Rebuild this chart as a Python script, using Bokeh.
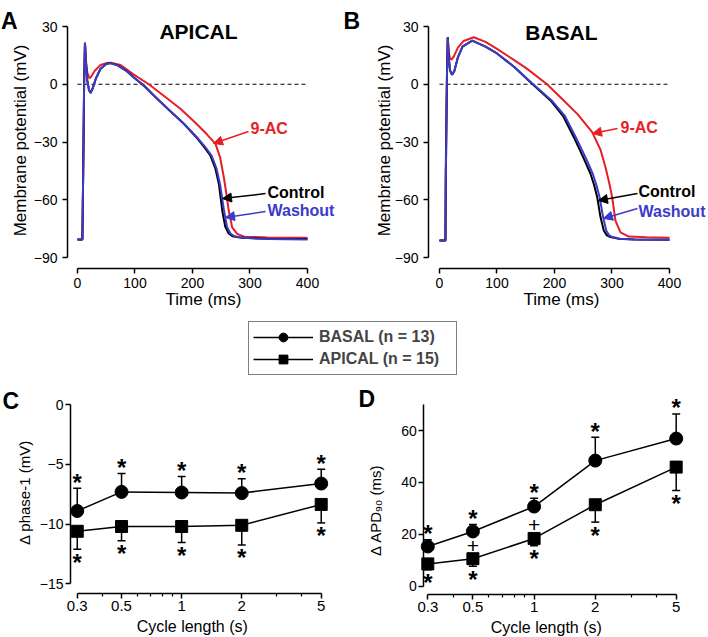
import math
from bokeh.plotting import figure
from bokeh.models import (Range1d, FixedTicker, Label, Arrow, NormalHead, Whisker, TeeHead,
                          ColumnDataSource, Legend, LegendItem)
from bokeh.layouts import row, column
from bokeh.embed import file_html
from bokeh.resources import INLINE
from bokeh.core.properties import value

FONT = "Liberation Sans"
RED = "#e61e25"
BLUE = "#3b3bc8"
BLACK = "#000000"

# ---------------- Panel A (APICAL) action potentials: time (ms), voltage (mV) ----------------
a_ctrl_t = [0, 8.5, 9.5, 10.5, 11.5, 13, 14.5, 17, 20, 22.5, 26, 32, 40, 50, 57, 70, 85, 98, 117,
            135, 156, 185, 205, 220, 231, 240, 246, 249, 252, 257, 263, 270, 285, 330, 400]
a_ctrl_v = [-80.6, -80.6, -56, -30, 0, 21.5, 12, 2, -3, -4.5, -2.5, 3, 8, 10.5, 11, 9.8, 7, 3.5, -1,
            -6.5, -12.5, -20.5, -27, -32.5, -37, -44, -52, -59, -66, -74, -77.5, -79, -79.8, -80.2, -80.4]
a_wash_t = [0, 8.5, 9.5, 10.5, 11.5, 13, 14.5, 17, 20, 22.5, 26, 32, 40, 50, 57, 70, 85, 98, 116,
            135, 156, 185, 206, 222, 233, 242, 248, 251.5, 255, 260, 266, 273, 288, 330, 400]
a_wash_v = [-80.6, -80.6, -56, -30, 0, 21.5, 12, 2, -3, -4.5, -2.5, 3, 8, 10.5, 11, 9.8, 7, 3.5, -1,
            -6.5, -12.5, -20.5, -27, -32.5, -37, -44, -52, -59, -66, -74, -77.5, -79, -79.8, -80.4, -80.6]
a_9ac_t = [0, 8.5, 9.5, 10.5, 11.5, 13, 14.5, 17, 21, 25, 30, 40, 50, 58, 75, 98, 124, 150, 180,
           205, 225, 240, 248, 254.5, 259, 263, 269, 277.7, 290, 330, 400]
a_9ac_v = [-80.6, -80.6, -56, -30, 0, 21.5, 13, 6, 3.1, 4.5, 7, 10, 11, 11.2, 10, 5, 0, -6, -13,
           -20, -26, -31, -38, -48.3, -57, -65.6, -74.3, -77.7, -79.2, -79.6, -79.8]

# ---------------- Panel B (BASAL) action potentials ----------------
b_ctrl_t = [0, 10.4, 11, 12, 13, 14.4, 16, 18.5, 22, 26, 32, 40, 57, 80, 100, 130, 160, 193, 215,
            233.6, 250, 262.6, 269, 274.3, 280, 285.7, 291, 297.4, 310, 340, 400]
b_ctrl_v = [-81.2, -81.2, -50, -20, 5, 24.4, 14, 7, 4.9, 7, 14, 19.5, 22.7, 19.5, 16, 9, 0.5, -8.4, -16.5,
            -27.5, -38, -46.5, -52.5, -58.7, -69, -76, -78.5, -79.4, -80.2, -80.6, -80.8]
b_wash_t = [0, 10.4, 11, 12, 13, 14.4, 16, 18.5, 22, 26, 32, 40, 57, 80, 100, 130, 161, 195, 218,
            237, 254, 266.5, 273, 278.5, 284.5, 290, 295, 301, 314, 340, 400]
b_wash_v = [-81.2, -81.2, -50, -20, 5, 24.4, 14, 7, 4.9, 7, 14, 19.5, 22.7, 19.5, 16, 9, 0.5, -8.4, -16.5,
            -27.5, -38, -46.5, -52.5, -58.7, -69, -76, -78.5, -79.4, -80.2, -80.6, -80.8]
b_9ac_t = [0, 10.2, 10.8, 12, 13, 14.4, 16, 18, 20.9, 25, 32, 42, 59.7, 80, 100, 130, 152.5, 187,
           216, 240, 265.5, 280, 288.7, 295, 300.3, 306, 314.8, 329, 360, 400]
b_9ac_v = [-81.2, -81.2, -44, -20, 5, 24.4, 17, 13.5, 12.7, 14.5, 19, 22.5, 24.4, 22, 18.4, 12.5, 8, 0,
           -8.4, -15.5, -24.9, -34, -43.1, -51, -58.7, -70.8, -76.9, -79.1, -79.5, -79.8]

# ---------------- Panels C / D: cycle length dependence ----------------
cycle_length = [0.3, 0.5, 1, 2, 5]
c_basal_mean = [-8.9, -7.3, -7.35, -7.4, -6.6]
c_basal_sem = [1.9, 1.55, 1.35, 1.2, 1.2]
c_apical_mean = [-10.6, -10.2, -10.2, -10.1, -8.35]
c_apical_sem = [1.5, 1.2, 1.35, 1.65, 1.55]
d_basal_mean = [15.3, 21.1, 30.7, 48.4, 56.9]
d_basal_sem = [2.6, 2.7, 3.2, 9.0, 9.5]
d_apical_mean = [8.6, 10.6, 18.4, 31.4, 45.9]
d_apical_sem = [2.3, 2.9, 2.8, 6.7, 9.0]
d_plus_x = [0.5, 1]   # basal vs apical significance marks

# ---------------- ticks ----------------
ap_time_ticks = [0, 100, 200, 300, 400]
ap_mv_ticks = [-90, -60, -30, 0, 30]
cl_ticks = [0.3, 0.5, 1, 2, 5]
cl_minor_ticks = [0.4, 0.6, 0.7, 0.8, 0.9, 3, 4]
cl_labels = {0.3: "0.3", 0.5: "0.5", 1: "1", 2: "2", 5: "5"}
c_ticks = [-15, -10, -5, 0]
d_ticks = [0, 20, 40, 60]
zero_line_t = [0, 400]
zero_line_v = [0, 0]


def style(p, tick_px):
    p.grid.visible = False
    p.outline_line_color = None
    for ax in p.axis:
        ax.axis_line_color = "black"
        ax.axis_line_width = 1.5
        ax.major_tick_line_color = "black"
        ax.major_tick_line_width = 1.5
        ax.major_tick_in = 0
        ax.major_tick_out = 5
        ax.minor_tick_line_color = "black"
        ax.minor_tick_line_width = 1.2
        ax.minor_tick_in = 0
        ax.minor_tick_out = 3
        ax.major_label_text_font = FONT
        ax.major_label_text_font_size = tick_px
        ax.major_label_text_color = "black"


def text_label(p, x, y, text, size, bold=False, align="center", baseline="middle", color="black", angle=0.0):
    p.add_layout(Label(x=x, y=y, text=text, text_font=FONT, text_font_size=size,
                       text_font_style="bold" if bold else "normal", text_align=align,
                       text_baseline=baseline, text_color=color, angle=angle))


def ap_panel(width, x0, x1, y_axis_at, curves, title, title_xy, letter, letter_xy, ylab_x, xlab_x, notes):
    p = figure(width=width, height=314, x_range=Range1d(x0, x1), y_range=Range1d(-119.61, 43.51),
               min_border=0, toolbar_location=None, output_backend="svg")
    style(p, "14px")
    p.xaxis.fixed_location = -95.71
    p.yaxis.fixed_location = y_axis_at
    p.xaxis.bounds = (0, 400)
    p.yaxis.bounds = (-90, 30)
    p.xaxis.ticker = FixedTicker(ticks=ap_time_ticks)
    p.yaxis.ticker = FixedTicker(ticks=ap_mv_ticks)
    p.xaxis.major_label_standoff = 5
    p.yaxis.major_label_standoff = 5
    p.line(zero_line_t, zero_line_v, line_color="black", line_width=1, line_dash="4 3")
    for t, v, c in curves:
        p.line(t, v, line_color=c, line_width=2)
    text_label(p, title_xy[0], title_xy[1], title, "21px", bold=True)
    text_label(p, letter_xy[0], letter_xy[1], letter, "23px", bold=True, align="left", baseline="alphabetic")
    text_label(p, ylab_x, -29.2, "Membrane potential (mV)", "17px", angle=math.pi / 2)
    text_label(p, xlab_x, -107.1, "Time (ms)", "17px", baseline="top")
    for text, col, tx, ty, xs, ys, xe, ye in notes:
        p.add_layout(Arrow(end=NormalHead(size=9, fill_color=col, line_color=col, line_width=1),
                           x_start=xs, y_start=ys, x_end=xe, y_end=ye, line_color=col, line_width=1.5))
        text_label(p, tx, ty, text, "16px", bold=True, align="left", color=col)
    return p


pA = ap_panel(340, -133.9, 457.4, -17.39,
              [(a_9ac_t, a_9ac_v, RED), (a_ctrl_t, a_ctrl_v, BLACK), (a_wash_t, a_wash_v, BLUE)],
              "APICAL", (210.4, 27.4), "A", (-133.0, 33.1), -98.3, 219.1,
              [("9-AC", RED, 300.9, -23.0, 297.4, -24.5, 236.5, -30.8),
               ("Control", BLACK, 330.4, -56.2, 327.0, -56.8, 252.2, -59.4),
               ("Washout", BLUE, 330.4, -65.6, 327.0, -66.1, 257.4, -69.2)])
pB = ap_panel(368, -172.17, 467.83, -19.13,
              [(b_9ac_t, b_9ac_v, RED), (b_ctrl_t, b_ctrl_v, BLACK), (b_wash_t, b_wash_v, BLUE)],
              "BASAL", (212, 27.0), "B", (-167, 33.1), -96.5, 212.2,
              [("9-AC", RED, 314.8, -22.5, 309.6, -23.0, 266.1, -25.6),
               ("Control", BLACK, 346.1, -55.7, 344.3, -56.8, 276.5, -60.4),
               ("Washout", BLUE, 346.1, -66.1, 344.3, -64.5, 285.2, -69.7)])

# ---------------- legend strip ----------------
pl = figure(width=708, height=62, x_range=Range1d(0, 1), y_range=Range1d(0, 1),
            x_axis_location=None, y_axis_location=None, min_border=0,
            toolbar_location=None, output_backend="svg")
pl.grid.visible = False
pl.outline_line_color = None
# legend-only samples, kept outside the visible range of this strip
r_bl = pl.line(x=[-2, -1], y=[-2, -2], line_color="black", line_width=1.5)
r_bm = pl.scatter(x=[-2], y=[-2], marker="circle", size=9, fill_color="black", line_color="black")
r_al = pl.line(x=[-2, -1], y=[-2, -2], line_color="black", line_width=1.5)
r_am = pl.scatter(x=[-2], y=[-2], marker="square", size=9, fill_color="black", line_color="black")
leg = Legend(items=[LegendItem(label="BASAL (n = 13)", renderers=[r_bl, r_bm]),
                    LegendItem(label="APICAL (n = 15)", renderers=[r_al, r_am])],
             location=(248, 1), orientation="vertical", padding=4, spacing=0, margin=0,
             glyph_width=60, glyph_height=22, label_standoff=6, label_width=133, label_height=22,
             label_text_font=FONT, label_text_font_size="16px", label_text_font_style="bold",
             border_line_color="black", border_line_width=1.5, background_fill_alpha=1.0)
pl.add_layout(leg)


def cl_panel(width, x0, x1, y0, y1, yaxis_at, xaxis_at, yticks, ybounds, bm, bs, am, asem,
             letter_xy, xlabel_xy, ylabel, plus_x=None):
    p = figure(width=width, height=260, x_axis_type="log", x_range=Range1d(x0, x1), y_range=Range1d(y0, y1),
               min_border=0, toolbar_location=None, output_backend="svg")
    style(p, "14px")
    p.xaxis.major_label_text_font_size = "15px"
    p.xaxis.fixed_location = xaxis_at
    p.yaxis.fixed_location = yaxis_at
    p.xaxis.bounds = (0.3, 5)
    p.yaxis.bounds = ybounds
    p.xaxis.ticker = FixedTicker(ticks=cl_ticks, minor_ticks=cl_minor_ticks)
    p.xaxis.major_label_overrides = cl_labels
    p.yaxis.ticker = FixedTicker(ticks=yticks)
    p.xaxis.major_label_standoff = 2
    p.yaxis.major_label_standoff = 2
    bsrc = ColumnDataSource(dict(x=cycle_length, m=bm, top=[m + s for m, s in zip(bm, bs)]))
    asrc = ColumnDataSource(dict(x=cycle_length, m=am, bot=[m - s for m, s in zip(am, asem)]))
    p.add_layout(Whisker(source=bsrc, base="x", upper="top", lower="m", dimension="height",
                         line_color="black", line_width=1.5,
                         upper_head=TeeHead(size=8, line_width=1.5, line_color="black"), lower_head=None))
    p.add_layout(Whisker(source=asrc, base="x", upper="m", lower="bot", dimension="height",
                         line_color="black", line_width=1.5,
                         lower_head=TeeHead(size=8, line_width=1.5, line_color="black"), upper_head=None))
    p.line("x", "m", source=bsrc, line_color="black", line_width=1.5)
    p.line("x", "m", source=asrc, line_color="black", line_width=1.5)
    p.scatter("x", "m", source=bsrc, marker="circle", size=13, fill_color="black", line_color="black")
    p.scatter("x", "m", source=asrc, marker="square", size=12, fill_color="black", line_color="black")
    p.text("x", "top", source=bsrc, text=value("*"), text_font=value(FONT), text_font_size=value("24px"),
           text_font_style="bold", text_align="center", text_baseline="alphabetic", y_offset=-6,
           text_color="black")
    p.text("x", "bot", source=asrc, text=value("*"), text_font=value(FONT), text_font_size=value("24px"),
           text_font_style="bold", text_align="center", text_baseline="alphabetic", y_offset=13,
           text_color="black")
    if plus_x:
        py = [am[cycle_length.index(x)] for x in plus_x]
        p.text(plus_x, py, text=value("+"), text_font=value(FONT), text_font_size=value("21px"),
               text_align="center", text_baseline="alphabetic", y_offset=-13, text_color="black")
    text_label(p, letter_xy[0], letter_xy[1], letter_xy[2], "23px", bold=True, align="left",
               baseline="alphabetic")
    text_label(p, xlabel_xy[0], xlabel_xy[1], "Cycle length (s)", "16px", baseline="top")
    text_label(p, ylabel[0], ylabel[1], ylabel[2], "15px", angle=math.pi / 2)
    return p


pC = cl_panel(345, 0.1238, 6.616, -19.42, 2.372, 0.2777, -15.817, c_ticks, (-15, 0),
              c_basal_mean, c_basal_sem, c_apical_mean, c_apical_sem,
              (0.1268, 0.36, "C"), (1.13, -17.91), (0.1640, -7.35, "\u0394 phase-1 (mV)"))
pD = cl_panel(363, 0.1181, 7.21, -19.38, 80.81, 0.2867, -3.2, d_ticks, (0, 70),
              d_basal_mean, d_basal_sem, d_apical_mean, d_apical_sem,
              (0.1368, 72.33, "D"), (1.148, -12.45), (0.1668, 29.2, "\u0394 APD\u2089\u2080 (ms)"),
              plus_x=d_plus_x)

layout = column(row(pA, pB), pl, row(pC, pD))
open("out.html", "w").write(file_html(layout, INLINE, title="Action potentials"))
